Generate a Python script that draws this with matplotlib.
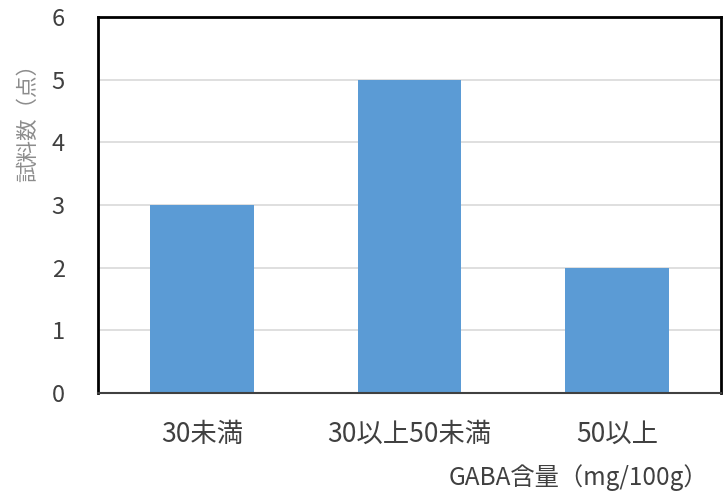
import matplotlib
matplotlib.use("Agg")
from matplotlib import pyplot as plt

plt.rcParams['font.family'] = ['Noto Sans CJK JP', 'DejaVu Sans']

# data
categories = ['30未満', '30以上50未満', '50以上']
counts = [3, 5, 2]
y_ticks = [0, 1, 2, 3, 4, 5, 6]

fig = plt.figure(figsize=(7.28, 4.92), dpi=100)
ax = fig.add_axes([98/728, 1 - 393/492, 623/728, 376/492])

ax.bar(range(len(categories)), counts, width=0.5, color='#5B9BD5', zorder=3)

ax.set_xlim(-0.5, len(categories) - 0.5)
ax.set_ylim(0, 6)
ax.set_yticks(y_ticks)
ax.set_xticks(range(len(categories)))
ax.set_xticklabels(categories)
ax.yaxis.grid(True, color='#d9d9d9', lw=1.2, zorder=0)

ax.tick_params(axis='y', length=0, labelsize=17, labelcolor='#404040', pad=24)
ax.tick_params(axis='x', length=0, labelsize=19, labelcolor='#404040', pad=20)

for s in ['left', 'top', 'right']:
	ax.spines[s].set_color('black')
	ax.spines[s].set_linewidth(2)
ax.spines['bottom'].set_color('#404040')
ax.spines['bottom'].set_linewidth(1.5)
ax.spines['bottom'].set_zorder(4)

fig.text(28/728, 1 - 118/492, '試料数（点）', rotation=90, ha='center', va='center',
	fontsize=15.5, color='#8c8c8c')
fig.text(578/728, 1 - 478/492, 'GABA含量（mg/100g）', ha='center', va='center',
	fontsize=17.5, color='#404040')

fig.savefig('out.png', dpi=100)
